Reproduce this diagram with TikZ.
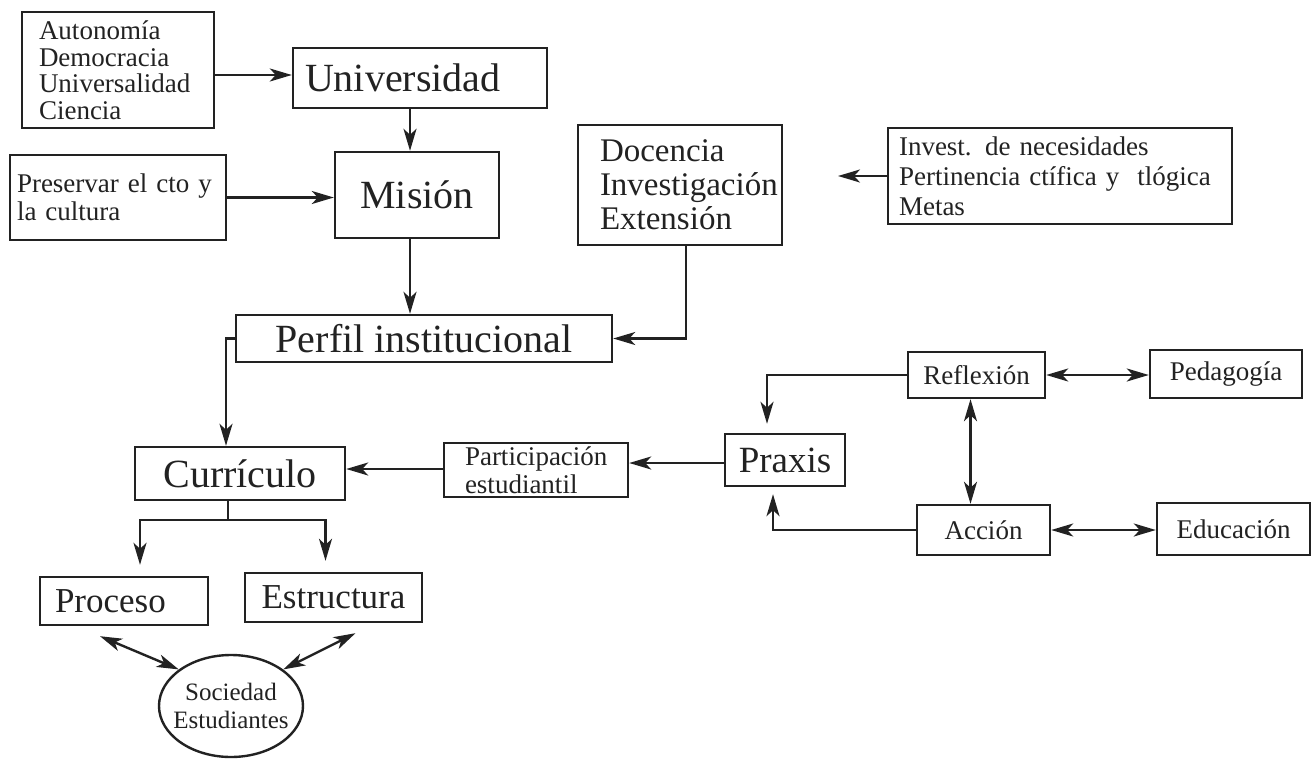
\documentclass[tikz,border=0pt]{standalone}
\usepackage{fontspec}
\setmainfont{Liberation Serif}
\usetikzlibrary{arrows.meta,shapes.geometric,calc}
\newcommand\fBig{\fontsize{40}{44}\selectfont}
\newcommand\fPrx{\fontsize{37}{40}\selectfont}
\newcommand\fMid{\fontsize{33}{34}\selectfont}
\newcommand\fPE{\fontsize{35}{38}\selectfont}
\newcommand\fSm{\fontsize{27}{28}\selectfont}
\newcommand\fSmW{\fontsize{27}{30}\selectfont}
\newcommand\fAut{\fontsize{27}{26.5}\selectfont}
\newcommand\fTiny{\fontsize{25}{28}\selectfont}
\definecolor{ink}{HTML}{222222}
\tikzset{
  box/.style={draw=ink, line width=2.4pt, rectangle, inner sep=0pt, text=ink},
  arr/.style={draw=ink, line width=2.4pt, -{Stealth[length=22pt,width=13pt,inset=6pt]}},
  darr/.style={draw=ink, line width=2.4pt, {Stealth[length=22pt,width=13pt,inset=6pt]}-{Stealth[length=22pt,width=13pt,inset=6pt]}},
  ln/.style={draw=ink, line width=2.4pt}
}
\begin{document}
\begin{tikzpicture}[x=1pt,y=-1pt]
\useasboundingbox[fill=white] (0,0) rectangle (1312,768);
% nodes
\node[box, minimum width=192, minimum height=116, text width=158, align=left, font=\fAut] (aut) at (118,70) {Autonomía\\Democracia\\Universalidad\\Ciencia};
\node[box, minimum width=254, minimum height=60, text width=230, align=left, font=\fBig] (uni) at (420,78) {Universidad};
\node[box, minimum width=216, minimum height=85, text width=202, align=left, font=\fSm] (pre) at (118,197.5) {Preservar el cto y\\la cultura};
\node[box, minimum width=164, minimum height=86, font=\fBig] (mis) at (417,195) {Misión};
\node[box, minimum width=204, minimum height=120, text width=160, align=left, font=\fMid] (doc) at (680,185) {Docencia\\Investigación\\Extensión};
\node[box, minimum width=344, minimum height=96, text width=322, align=left, font=\fSmW] (inv) at (1060,176) {Invest. de necesidades\\Pertinencia ctífica y\ \ tlógica\\Metas};
\node[box, minimum width=376, minimum height=47, font=\fBig] (per) at (424,338.5) {Perfil institucional};
\node[box, minimum width=210, minimum height=53, font=\fBig] (cur) at (240,473.5) {Currículo};
\node[box, minimum width=184, minimum height=54, text width=142, align=left, font=\fSm] (par) at (536,470) {Participación\\estudiantil};
\node[box, minimum width=120, minimum height=52, font=\fPrx] (pra) at (785,460) {Praxis};
\node[box, minimum width=137, minimum height=46, font=\fSm] (ref) at (976.5,375) {Reflexión};
\node[box, minimum width=152, minimum height=48, font=\fSm] (ped) at (1226,374) {Pedagogía};
\node[box, minimum width=133, minimum height=50, font=\fSm] (acc) at (983.5,530) {Acción};
\node[box, minimum width=153, minimum height=52, font=\fSm] (edu) at (1233.5,529) {Educación};
\node[box, minimum width=168, minimum height=48, text width=138, align=left, font=\fPE] (pro) at (124,601) {Proceso};
\node[box, minimum width=177, minimum height=49, font=\fPE] (est) at (333.5,597.5) {Estructura};
\node[box, ellipse, inner sep=0pt, text width=94, minimum width=144, minimum height=102, align=center, font=\fTiny] (soc) at (231,706) {\makebox[94pt]{Sociedad}\\\makebox[94pt]{Estudiantes}};
% connectors
\draw[arr] (aut.east |- 0,75) -- (uni.west |- 0,75);
\draw[arr] ([xshift=-10]uni.south) -- ([xshift=-10]uni.south |- mis.north);
\draw[arr] (pre.east) -- (pre.east -| mis.west);
\draw[arr] ([xshift=-7]mis.south) -- ([xshift=-7]mis.south |- per.north);
\draw[arr] ([xshift=6]doc.south) |- (per.east);
\coordinate (invend) at (838,176);
\draw[arr] (inv.west) -- (invend);
\draw[arr] (per.west) -| ([xshift=-14]cur.north);
\draw[arr] (par.west |- 0,469) -- (cur.east |- 0,469);
\draw[arr] (pra.west |- 0,463) -- (par.east |- 0,463);
\draw[arr, shorten >=9pt] (ref.west) -| ([xshift=-18]pra.north);
\draw[arr, shorten >=7pt] (acc.west) -| ([xshift=-12]pra.south);
\draw[darr] ([xshift=-6]ref.south) -- ([xshift=-6]ref.south |- acc.north);
\draw[darr] (ref.east) -- (ref.east -| ped.west);
\draw[darr] (acc.east) -- (acc.east -| edu.west);
\coordinate (br) at (228,520);
\draw[ln] (cur.south -| br) -- (br);
\draw[arr, shorten >=11pt] (br) -| ([xshift=16]pro.north);
\draw[arr, shorten >=11pt] (br) -| ([xshift=-8]est.north);
\draw[darr] ([xshift=-24,yshift=-10]pro.south) -- (soc.145);
\draw[darr] ([xshift=22,yshift=-10]est.south) -- (soc.35);
\end{tikzpicture}
\end{document}
